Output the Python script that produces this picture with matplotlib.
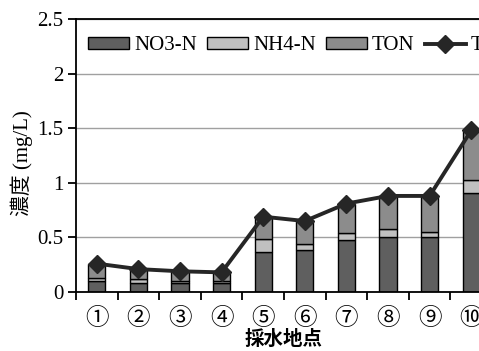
import numpy as np
import matplotlib.pyplot as plt
from matplotlib.lines import Line2D
from matplotlib.patches import Patch

# sampling points and nitrogen fractions (mg/L)
sites = ['①', '②', '③', '④', '⑤', '⑥', '⑦', '⑧', '⑨', '⑩']
no3 = [0.10, 0.085, 0.08, 0.08, 0.37, 0.385, 0.48, 0.50, 0.50, 0.91]
nh4 = [0.03, 0.03, 0.02, 0.02, 0.115, 0.055, 0.06, 0.08, 0.05, 0.115]
tn = [0.26, 0.21, 0.19, 0.18, 0.69, 0.65, 0.81, 0.88, 0.88, 1.48]
ton = [t - a - b for t, a, b in zip(tn, no3, nh4)]

serif = ['Liberation Serif', 'Noto Sans CJK JP']
jp = ['Noto Sans CJK JP', 'DejaVu Sans']

fig = plt.figure(figsize=(4.79, 3.51), dpi=100)
ax = fig.add_axes([0.1587, 0.168, 0.8685, 0.7778])

x = np.arange(len(sites))
w = 0.41
c_no3, c_nh4, c_ton = '#5f5f5f', '#c0c0c0', '#8c8c8c'
ax.bar(x, no3, w, color=c_no3, edgecolor='black', linewidth=1, zorder=2)
ax.bar(x, nh4, w, bottom=no3, color=c_nh4, edgecolor='black', linewidth=1, zorder=2)
ax.bar(x, ton, w, bottom=np.add(no3, nh4), color=c_ton, edgecolor='black', linewidth=1, zorder=2)
ax.plot(x, tn, color='#262626', linewidth=2.8, marker='D', markersize=9, zorder=3)

ax.set_xlim(-0.5, 9.5)
ax.set_ylim(0, 2.5)
ax.set_yticks([0, 0.5, 1, 1.5, 2, 2.5])
ax.set_yticklabels(['0', '0.5', '1', '1.5', '2', '2.5'], family=serif, fontsize=15)
ax.yaxis.grid(True, color='#a0a0a0', linewidth=1)
ax.set_axisbelow(True)

# ticks between the categories, labels at the centres
ax.set_xticks(np.arange(-0.5, 10, 1))
ax.set_xticklabels([])
ax.set_xticks(x, minor=True)
ax.set_xticklabels(sites, minor=True, family=jp, fontsize=17)
ax.tick_params(axis='x', which='minor', length=0, pad=11)
ax.tick_params(axis='x', which='major', length=6, width=1.3, direction='out')
ax.tick_params(axis='y', length=6, width=1.3, direction='out', pad=3)

for s in ax.spines.values():
    s.set_linewidth(1.3)
    s.set_color('black')

ax.set_xlabel('採水地点', family=jp, fontsize=14, weight='bold', labelpad=0)
fig.text(0.046, 0.535, '濃度 (mg/L)', family=serif, fontsize=15, rotation=90,
         ha='center', va='center')

handles = [Patch(facecolor=c_no3, edgecolor='black'),
           Patch(facecolor=c_nh4, edgecolor='black'),
           Patch(facecolor=c_ton, edgecolor='black'),
           Line2D([], [], color='#262626', linewidth=2.8, marker='D', markersize=9)]
ax.legend(handles, ['NO3-N', 'NH4-N', 'TON', 'TN'], ncol=4, frameon=False,
          loc='center left', bbox_to_anchor=(0.184, 0.869), bbox_transform=fig.transFigure,
          prop={'family': serif, 'size': 15}, handlelength=1.95, handleheight=0.5,
          handletextpad=0.25, columnspacing=0.5, borderaxespad=0, borderpad=0)

fig.savefig('out.png', dpi=100)
